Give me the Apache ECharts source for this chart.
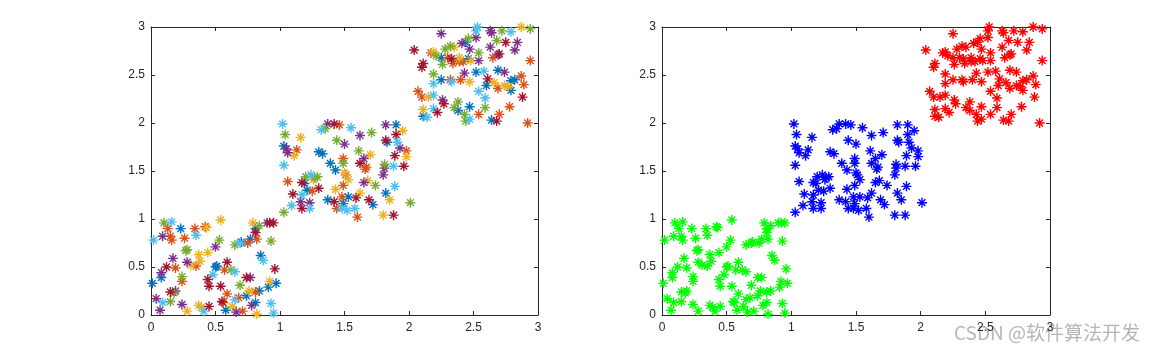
<!DOCTYPE html>
<html>
<head>
<meta charset="utf-8">
<script src="https://cdn.jsdelivr.net/npm/echarts@6/dist/echarts.min.js"></script>
<style>
html,body{margin:0;padding:0;background:#fff;}
#c{width:1161px;height:355px;}
</style>
</head>
<body>
<div id="c"></div>
<script>
// Color index: 0 blue,1 orange,2 yellow,3 purple,4 green,5 cyan,6 dark red (MATLAB order)
const matlabColors = ['#0072BD','#D95319','#EDB120','#7E2F8E','#77AC30','#4DBEEE','#A2142F'];
const clusterColors = ['#00FF00','#0000FF','#FF0000'];
const tickLabels = ['0','0.5','1','1.5','2','2.5','3'];

const cluster1 = [
[0.16,0.97,5],[0.10,0.96,4],[0.13,0.90,1],[0.23,0.90,0],[0.34,0.90,1],[0.43,0.91,2],[0.42,0.92,1],[0.54,0.99,2],
[0.02,0.78,5],[0.09,0.82,3],[0.15,0.82,1],[0.16,0.78,1],[0.26,0.80,1],[0.35,0.83,5],[0.27,0.67,4],[0.28,0.68,4],
[0.37,0.63,2],[0.44,0.65,2],[0.50,0.71,3],[0.53,0.78,4],[0.17,0.59,3],[0.12,0.50,6],[0.19,0.49,1],[0.08,0.44,3],
[0.08,0.39,0],[0.01,0.33,0],[0.28,0.55,3],[0.31,0.52,2],[0.35,0.51,1],[0.38,0.56,2],[0.24,0.35,1],[0.24,0.40,4],
[0.15,0.24,6],[0.19,0.25,3],[0.18,0.23,4],[0.04,0.17,3],[0.09,0.13,5],[0.15,0.14,4],[0.07,0.05,3],[0.24,0.11,3],
[0.28,0.04,2],[0.37,0.10,2],[0.39,0.08,2],[0.41,0.04,5],[0.45,0.09,6],[0.44,0.37,6],[0.45,0.30,6],[0.50,0.50,0],
[0.48,0.42,5],[0.54,0.30,6],[0.59,0.22,1],[0.55,0.14,6],[0.58,0.05,0],[0.59,0.55,6],[0.57,0.47,1],[0.65,0.45,5],
[0.62,0.47,4],[0.63,0.09,2],[0.66,0.03,3],[0.65,0.16,5],[0.68,0.18,1],[0.74,0.20,0],[0.69,0.31,4],[0.71,0.04,1],
[0.78,0.10,3],[0.74,0.39,6],[0.77,0.39,3],[0.76,0.25,2],[0.81,0.13,0],[0.81,0.24,1],[0.84,0.25,0],[0.82,0.01,2],
[0.91,0.29,0],[0.93,0.12,5],[0.95,0.02,5],[0.92,0.35,2],[0.97,0.33,0],[0.96,0.48,6],[0.85,0.62,0],[0.87,0.57,5],
[0.65,0.73,4],[0.69,0.75,5],[0.70,0.76,0],[0.75,0.75,1],[0.77,0.79,0],[0.82,0.79,1],[0.79,0.96,2],[0.81,0.90,0],
[0.81,0.86,6],[0.84,0.93,4],[0.90,0.96,3],[0.92,0.96,6],[0.95,0.96,6],[0.93,0.77,4],[0.56,0.13,1],[0.51,0.51,0]
];

const cluster2 = [
[1.02,1.99,5],[1.04,1.88,4],[1.16,1.85,2],[1.03,1.76,0],[1.05,1.73,3],[1.06,1.69,3],[1.13,1.72,1],[1.11,1.66,2],
[1.03,1.56,5],[1.06,1.39,1],[1.10,1.26,6],[1.03,1.07,4],[1.09,1.14,5],[1.17,1.38,6],[1.19,1.37,0],[1.17,1.25,5],
[1.17,1.11,6],[1.16,1.18,3],[1.23,1.17,3],[1.23,1.11,5],[1.21,1.30,0],[1.25,1.29,1],[1.20,1.44,4],[1.24,1.46,5],
[1.27,1.43,4],[1.26,1.41,2],[1.29,1.44,4],[1.30,1.32,6],[1.32,1.93,5],[1.35,1.94,4],[1.37,1.99,3],[1.42,1.99,6],
[1.46,1.98,1],[1.55,1.95,5],[1.44,1.82,4],[1.50,1.78,3],[1.30,1.70,0],[1.33,1.68,0],[1.39,1.58,0],[1.43,1.51,0],
[1.49,1.63,1],[1.49,1.58,4],[1.50,1.48,2],[1.51,1.46,1],[1.53,1.41,2],[1.43,1.31,2],[1.49,1.35,1],[1.37,1.20,0],
[1.42,1.18,6],[1.44,1.11,1],[1.48,1.11,5],[1.49,1.16,0],[1.48,1.23,1],[1.53,1.23,0],[1.52,1.09,5],[1.58,1.11,5],
[1.60,1.02,1],[1.59,1.22,6],[1.62,1.27,2],[1.61,1.71,4],[1.62,1.87,3],[1.71,1.90,4],[1.62,1.58,6],[1.65,1.63,3],
[1.67,1.54,1],[1.66,1.52,1],[1.70,1.67,2],[1.65,1.38,3],[1.68,1.40,2],[1.74,1.35,4],[1.69,1.20,6],[1.72,1.15,0],
[1.80,1.04,2],[1.88,1.04,6],[1.85,1.20,2],[1.82,1.27,0],[1.89,1.34,5],[1.80,1.46,3],[1.81,1.57,4],[1.81,1.53,3],
[1.88,1.55,5],[1.96,1.55,6],[1.98,1.65,2],[1.98,1.71,1],[1.89,1.66,6],[1.91,1.80,5],[1.93,1.74,3],[1.90,1.88,6],
[1.95,1.92,2],[1.90,1.98,0],[1.82,1.98,3],[1.82,1.82,6],[1.83,1.80,0],[2.01,1.17,4]
];

const cluster3 = [
[2.04,2.76,6],[2.11,2.62,6],[2.10,2.58,6],[2.25,2.93,3],[2.07,2.33,1],[2.10,2.27,1],[2.15,2.27,2],[2.11,2.14,2],
[2.11,2.07,0],[2.14,2.06,5],[2.19,2.51,4],[2.19,2.41,5],[2.19,2.29,5],[2.19,2.15,5],[2.22,2.11,6],[2.25,2.45,0],
[2.26,2.24,3],[2.27,2.20,6],[2.26,2.61,4],[2.19,2.74,2],[2.17,2.73,1],[2.21,2.70,4],[2.25,2.68,0],[2.28,2.77,4],
[2.30,2.68,1],[2.33,2.67,6],[2.34,2.62,1],[2.32,2.80,4],[2.35,2.79,2],[2.39,2.64,1],[2.39,2.68,2],[2.41,2.83,3],
[2.44,2.84,0],[2.46,2.88,4],[2.47,2.77,3],[2.42,2.64,1],[2.46,2.67,0],[2.48,2.65,2],[2.54,2.65,3],[2.54,2.73,4],
[2.52,2.89,3],[2.53,3.00,5],[2.52,2.96,5],[2.64,2.94,3],[2.63,2.96,3],[2.72,2.96,4],[2.79,2.95,5],[2.87,3.00,2],
[2.94,2.98,4],[2.63,2.79,3],[2.68,2.86,4],[2.65,2.68,1],[2.69,2.71,3],[2.70,2.72,6],[2.75,2.84,6],[2.84,2.84,3],
[2.82,2.76,3],[2.94,2.65,1],[2.32,2.45,1],[2.33,2.43,5],[2.40,2.45,1],[2.43,2.52,3],[2.47,2.43,2],[2.52,2.53,0],
[2.58,2.54,5],[2.61,2.46,6],[2.60,2.39,0],[2.54,2.33,5],[2.59,2.26,5],[2.69,2.55,0],[2.74,2.53,3],[2.66,2.42,2],
[2.69,2.36,1],[2.74,2.39,2],[2.77,2.38,2],[2.79,2.34,0],[2.79,2.44,0],[2.82,2.45,0],[2.87,2.49,1],[2.89,2.40,1],
[2.88,2.27,6],[2.78,2.17,1],[2.54,2.09,1],[2.59,2.16,4],[2.92,2.00,1],[2.38,2.13,0],[2.35,2.16,4],[2.38,2.22,4],
[2.47,2.17,0],[2.43,2.09,4],[2.44,2.02,4],[2.47,2.04,5],[2.64,2.03,0],[2.68,2.02,6],[2.70,2.09,1]
];

const clusters = [cluster1, cluster2, cluster3];

const starPath = 'path://M5 0L5 10M0 5L10 5M1.6 1.6L8.4 8.4M1.6 8.4L8.4 1.6';
const axisColor = '#262626';
const grids = [
  {left:151, top:27, width:387, height:288},
  {left:662, top:27, width:388, height:288}
];

const xAxes = [], yAxes = [];
grids.forEach((g, i) => {
  const common = {
    min:0, max:3, interval:0.5, gridIndex:i,
    axisLine:{show:true, onZero:false, lineStyle:{color:axisColor, width:1}},
    axisTick:{show:true, inside:true, length:4, lineStyle:{color:axisColor}},
    splitLine:{show:false}
  };
  xAxes.push(Object.assign({}, common, {type:'value', position:'bottom',
    axisLabel:{show:true, color:axisColor, fontFamily:'Liberation Sans, Arial', fontSize:12, margin:7,
      formatter:(v)=>tickLabels[Math.round(v*2)]}}));
  xAxes.push(Object.assign({}, common, {type:'value', position:'top', axisLabel:{show:false}}));
  yAxes.push(Object.assign({}, common, {type:'value', position:'left',
    axisLabel:{show:true, color:axisColor, fontFamily:'Liberation Sans, Arial', fontSize:12, margin:6,
      formatter:(v)=>tickLabels[Math.round(v*2)]}}));
  yAxes.push(Object.assign({}, common, {type:'value', position:'right', axisLabel:{show:false}}));
});

const series = [];
// Left: each point colored by MATLAB color cycle
matlabColors.forEach((col, ci) => {
  const pts = [];
  clusters.forEach(cl => cl.forEach(p => { if (p[2] === ci) pts.push([p[0], p[1]]); }));
  series.push({
    type:'scatter', xAxisIndex:0, yAxisIndex:0, data:pts,
    symbol:starPath, symbolSize:10, silent:true,
    itemStyle:{color:'rgba(0,0,0,0)', borderColor:col, borderWidth:1.4, opacity:1}
  });
});
// Right: colored by cluster
clusters.forEach((cl, k) => {
  series.push({
    type:'scatter', xAxisIndex:2, yAxisIndex:2, data:cl.map(p => [p[0], p[1]]),
    symbol:starPath, symbolSize:10, silent:true,
    itemStyle:{color:'rgba(0,0,0,0)', borderColor:clusterColors[k], borderWidth:1.4, opacity:1}
  });
});

const chart = echarts.init(document.getElementById('c'), null, {renderer:'canvas'});
chart.setOption({
  animation:false,
  backgroundColor:'#ffffff',
  grid: grids,
  xAxis: xAxes,
  yAxis: yAxes,
  series: series,
  graphic: [{
    type:'text', left:954, top:323,
    style:{text:'CSDN @软件算法开发', fill:'rgba(150,150,150,0.7)', font:'19px "Noto Sans CJK SC", sans-serif'}
  }]
});
</script>
</body>
</html>
